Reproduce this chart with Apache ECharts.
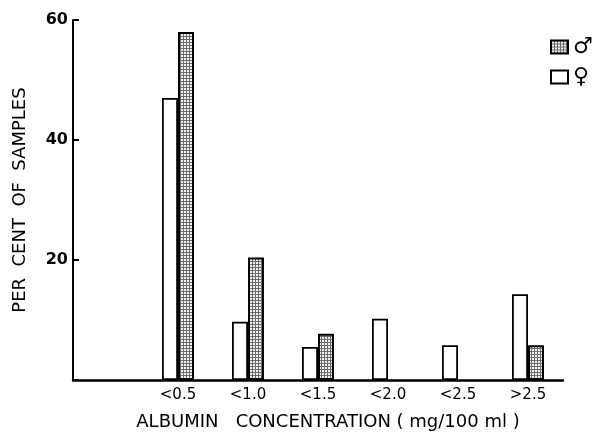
<!DOCTYPE html>
<html><head><meta charset="utf-8">
<script src="https://cdn.jsdelivr.net/npm/echarts@6/dist/echarts.min.js"></script>
<style>html,body{margin:0;padding:0;background:#fff}#c{width:595px;height:437px}</style>
</head><body><div id="c"></div>
<script>
const categories = ['', '<0.5', '<1.0', '<1.5', '<2.0', '<2.5', '>2.5'];
const femaleValues = [null, 47, 9.7, 5.5, 10.2, 5.8, 14.3];
const maleValues = [null, 58, 20.4, 7.7, null, null, 5.8];
const yTickLabels = ['20', '40', '60'];
const maleName = '\u2642';
const femaleName = '\u2640';

const pc = document.createElement('canvas'); pc.width = 3; pc.height = 3;
const g = pc.getContext('2d');
g.fillStyle = '#f2f2f2'; g.fillRect(0, 0, 3, 3);
g.fillStyle = '#6a6a6a'; g.fillRect(0, 0, 3, 1); g.fillRect(0, 0, 1, 3);

const FONT = 'DejaVu Sans';
const chart = echarts.init(document.getElementById('c'), null, {renderer: 'canvas'});
chart.setOption({
  animation: false,
  backgroundColor: '#fff',
  textStyle: {fontFamily: FONT, color: '#000'},
  grid: {left: 73, right: 32, top: 20, bottom: 57},
  legend: {
    orient: 'vertical', left: 545, top: 31, itemWidth: 17, itemHeight: 13, itemGap: 8,
    data: [maleName, femaleName], icon: 'rect',
    textStyle: {fontSize: 22, fontFamily: FONT, color: '#000'}
  },
  xAxis: {
    type: 'category', data: categories, boundaryGap: true,
    axisLine: {lineStyle: {color: '#000', width: 2.5}},
    axisTick: {show: false},
    axisLabel: {color: '#000', fontSize: 15, fontFamily: FONT, margin: 8, interval: 0},
    name: 'ALBUMIN   CONCENTRATION ( mg/100 ml )', nameLocation: 'middle', nameGap: 33,
    nameTextStyle: {fontSize: 18, fontFamily: FONT, color: '#000', padding: [0, 0, 0, 20]}
  },
  yAxis: {
    type: 'value', min: 0, max: 60, interval: 20,
    axisLine: {show: true, lineStyle: {color: '#000', width: 2}},
    axisTick: {show: true, inside: true, length: 6, lineStyle: {color: '#000', width: 2}},
    splitLine: {show: false},
    axisLabel: {color: '#000', fontSize: 16, fontWeight: 'bold', fontFamily: FONT, margin: 5,
      formatter: v => yTickLabels.includes(String(v)) ? String(v) : ''},
    name: 'PER  CENT  OF  SAMPLES', nameLocation: 'middle', nameRotate: 90, nameGap: 44,
    nameTextStyle: {fontSize: 18, fontFamily: FONT, color: '#000'}
  },
  series: [
    {name: femaleName, type: 'bar', data: femaleValues, barWidth: 16, barGap: '0%',
     itemStyle: {color: '#fff', borderColor: '#000', borderWidth: 1.8}},
    {name: maleName, type: 'bar', data: maleValues, barWidth: 16, barGap: '0%',
     itemStyle: {color: {image: pc, repeat: 'repeat'}, borderColor: '#000', borderWidth: 2}}
  ]
});
</script></body></html>
